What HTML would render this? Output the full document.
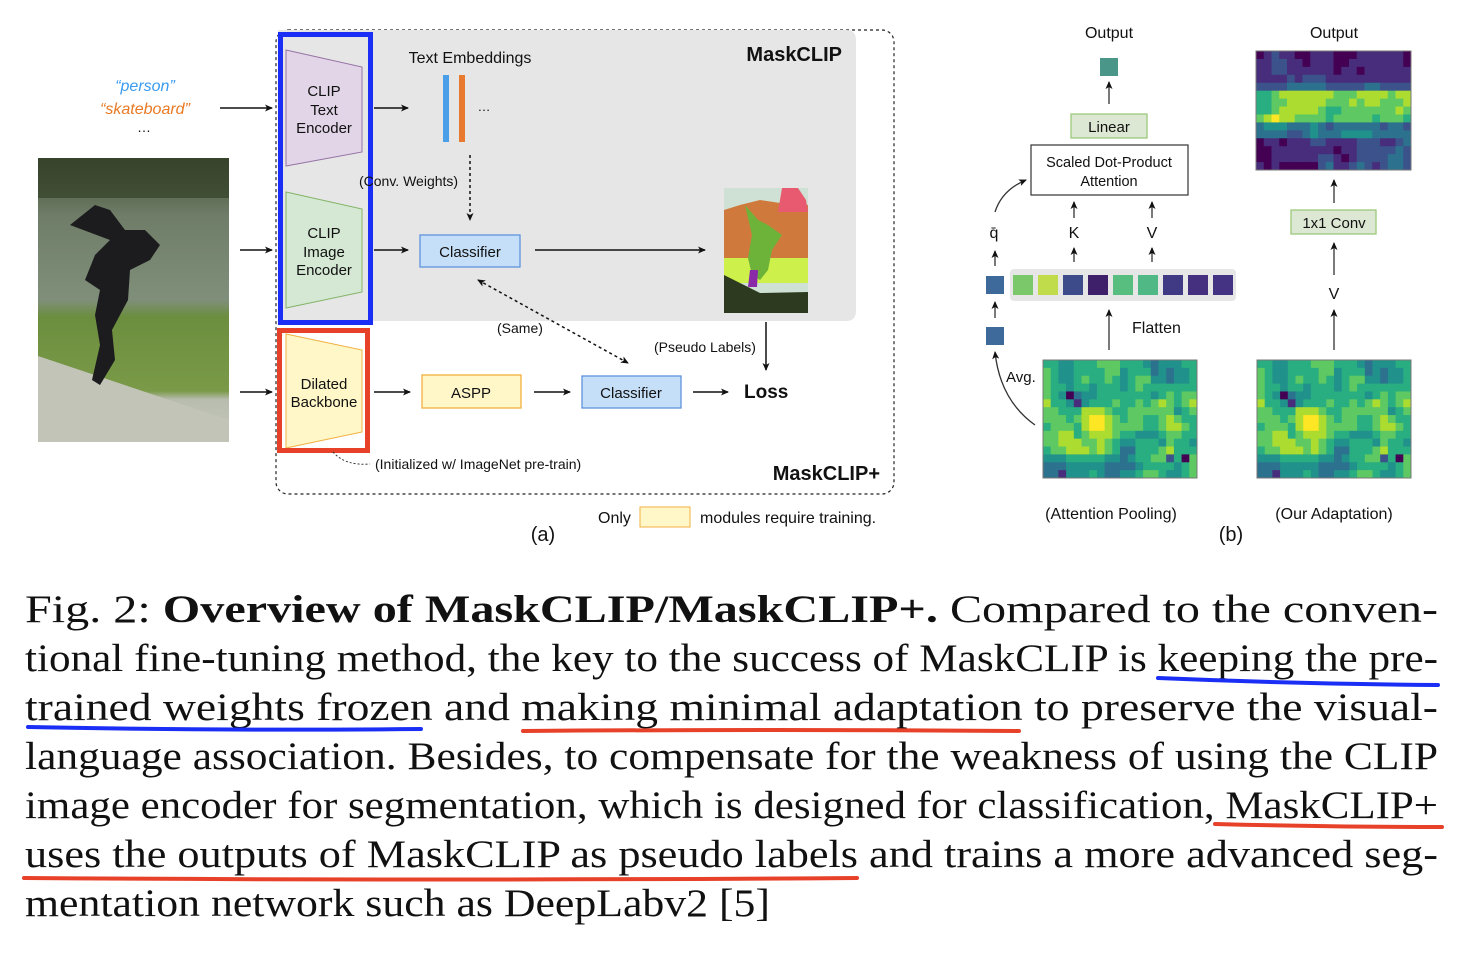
<!DOCTYPE html>
<html><head><meta charset="utf-8"><style>
html,body{margin:0;padding:0;background:#fff;width:1468px;height:956px;overflow:hidden}
svg{position:absolute;left:0;top:0}
.s{font-family:"Liberation Sans",sans-serif;fill:#111}
.c{font-family:"Liberation Serif",serif;font-size:39px;fill:#111}
</style></head><body>
<svg width="1468" height="956" viewBox="0 0 1468 956" xmlns="http://www.w3.org/2000/svg">
<defs>
<marker id="a" markerWidth="8" markerHeight="8" refX="7" refY="4" orient="auto" markerUnits="userSpaceOnUse"><path d="M0,0.5 L8,4 L0,7.5 L2,4z" fill="#111"/></marker>
<marker id="as" markerWidth="8" markerHeight="8" refX="1" refY="4" orient="auto" markerUnits="userSpaceOnUse"><path d="M8,0.5 L0,4 L8,7.5 L6,4z" fill="#111"/></marker>
<linearGradient id="ph" x1="0" y1="0" x2="0" y2="1">
<stop offset="0" stop-color="#3d4a2e"/><stop offset="0.2" stop-color="#6f7d68"/><stop offset="0.5" stop-color="#7f8f7a"/><stop offset="0.56" stop-color="#6b8e3e"/><stop offset="0.82" stop-color="#7a9a48"/><stop offset="0.85" stop-color="#b8bcae"/><stop offset="1" stop-color="#c5c8bc"/></linearGradient>
</defs>

<text class="s" x="145" y="91" font-size="16" font-style="italic" text-anchor="middle" style="fill:#3a9bf0">“person”</text>
<text class="s" x="145" y="114" font-size="16" font-style="italic" text-anchor="middle" style="fill:#e87a25">“skateboard”</text>
<text class="s" x="144" y="132" font-size="14" text-anchor="middle">…</text>
<rect x="38" y="158" width="191" height="284" fill="url(#ph)"/>
<rect x="38" y="158" width="191" height="40" fill="#34422a" opacity="0.7"/>
<path d="M38,356 L229,420 L229,442 L38,442z" fill="#c2c4b8"/>
<path d="M70,225 L95,205 L110,210 L125,230 L145,230 L160,245 L150,260 L130,270 L128,300 L112,330 L115,360 L100,385 L92,380 L100,345 L95,315 L100,290 L85,280 L95,255 L110,240 Z" fill="#1c1c1e"/>
<line x1="220" y1="108" x2="272" y2="108" stroke="#111" stroke-width="1.5" marker-end="url(#a)"/>
<line x1="240" y1="250" x2="272" y2="250" stroke="#111" stroke-width="1.5" marker-end="url(#a)"/>
<line x1="240" y1="392" x2="272" y2="392" stroke="#111" stroke-width="1.5" marker-end="url(#a)"/>

<rect x="276" y="30" width="618" height="464" rx="12" fill="none" stroke="#222" stroke-width="1.2" stroke-dasharray="3,3"/>
<path d="M278,30 H846 Q856,30 856,40 V311 Q856,321 846,321 H278 Z" fill="#e6e6e6"/>
<path d="M286,50 L362,67 L362,152 L286,166 Z" fill="#e1d5e7" stroke="#9673a6"/>
<path d="M286,192 L362,209 L362,292 L286,308 Z" fill="#d5e8d4" stroke="#82b366"/>
<path d="M286,334 L362,350 L362,432 L286,448 Z" fill="#fff7c8" stroke="#f0b040"/>
<rect x="280.5" y="34.5" width="90" height="288" fill="none" stroke="#1a2ef5" stroke-width="5"/>
<rect x="279.5" y="330.5" width="88" height="120" fill="none" stroke="#e8412a" stroke-width="5"/>
<g class="s" font-size="15" text-anchor="middle">
<text x="324" y="96">CLIP</text><text x="324" y="115">Text</text><text x="324" y="133">Encoder</text>
<text x="324" y="238">CLIP</text><text x="324" y="257">Image</text><text x="324" y="275">Encoder</text>
<text x="324" y="389">Dilated</text><text x="324" y="407">Backbone</text>
</g>
<text class="s" x="470" y="63" font-size="16" text-anchor="middle">Text Embeddings</text>
<rect x="443" y="75" width="6" height="67" fill="#4a9fe8"/>
<rect x="459" y="75" width="6" height="67" fill="#e87a30"/>
<text class="s" x="484" y="111" font-size="13" text-anchor="middle">…</text>
<text class="s" x="842" y="61" font-size="20" font-weight="bold" text-anchor="end">MaskCLIP</text>
<text class="s" x="880" y="480" font-size="20" font-weight="bold" text-anchor="end">MaskCLIP+</text>
<line x1="374" y1="108" x2="408" y2="108" stroke="#111" stroke-width="1.5" marker-end="url(#a)"/>
<line x1="374" y1="250" x2="408" y2="250" stroke="#111" stroke-width="1.5" marker-end="url(#a)"/>
<line x1="374" y1="392" x2="410" y2="392" stroke="#111" stroke-width="1.5" marker-end="url(#a)"/>
<line x1="470" y1="155" x2="470" y2="220" stroke="#111" stroke-width="1.5" stroke-dasharray="3,3" marker-end="url(#a)"/>
<text class="s" x="359" y="186" font-size="14">(Conv. Weights)</text>
<rect x="420" y="235" width="100" height="32" fill="#c6dff8" stroke="#5f93dc" stroke-width="1.3"/>
<text class="s" x="470" y="257" font-size="15" text-anchor="middle">Classifier</text>
<line x1="535" y1="250" x2="705" y2="250" stroke="#111" stroke-width="1.5" marker-end="url(#a)"/>
<rect x="724" y="188" width="84" height="125" fill="#cfe0d4"/>
<path d="M724,210 L740,205 L760,200 L780,203 L808,205 L808,258 L724,258 Z" fill="#cf7a3c"/>
<path d="M782,188 L798,188 L806,200 L808,212 L778,212 Z" fill="#e85a70"/>
<rect x="724" y="258" width="84" height="25" fill="#cdf14a"/>
<path d="M724,275 L760,293 L808,292 L808,313 L724,313 Z" fill="#2e3a20"/>
<path d="M745,205 L758,220 L768,225 L782,235 L772,250 L768,270 L760,280 L752,275 L748,258 L752,235 Z" fill="#6db33a"/>
<path d="M750,270 L758,270 L757,287 L748,287 Z" fill="#8a2aa8"/>
<line x1="766" y1="322" x2="766" y2="370" stroke="#111" stroke-width="1.5" marker-end="url(#a)"/>
<text class="s" x="654" y="352" font-size="14">(Pseudo Labels)</text>
<line x1="478" y1="280" x2="628" y2="363" stroke="#111" stroke-width="1.5" stroke-dasharray="3,3" marker-start="url(#as)" marker-end="url(#a)"/>
<text class="s" x="497" y="333" font-size="14">(Same)</text>
<rect x="422" y="375" width="99" height="33" fill="#fff7c8" stroke="#f0b040" stroke-width="1.3"/>
<text class="s" x="471" y="398" font-size="15" text-anchor="middle">ASPP</text>
<line x1="534" y1="392" x2="570" y2="392" stroke="#111" stroke-width="1.5" marker-end="url(#a)"/>
<rect x="582" y="376" width="99" height="32" fill="#c6dff8" stroke="#5f93dc" stroke-width="1.3"/>
<text class="s" x="631" y="398" font-size="15" text-anchor="middle">Classifier</text>
<line x1="693" y1="392" x2="728" y2="392" stroke="#111" stroke-width="1.5" marker-end="url(#a)"/>
<text class="s" x="744" y="398" font-size="19" font-weight="bold">Loss</text>
<path d="M333,452 Q345,466 370,464" fill="none" stroke="#333" stroke-dasharray="2,2"/>
<text class="s" x="375" y="469" font-size="14">(Initialized w/ ImageNet pre-train)</text>
<text class="s" x="598" y="523" font-size="16">Only</text>
<rect x="640" y="507" width="50" height="20" fill="#fff7c8" stroke="#f0b040"/>
<text class="s" x="700" y="523" font-size="16">modules require training.</text>
<text class="s" x="543" y="541" font-size="20" text-anchor="middle">(a)</text>

<g class="s" font-size="16" text-anchor="middle">
<text x="1109" y="38">Output</text><text x="1334" y="38">Output</text>
<text x="1111" y="519">(Attention Pooling)</text><text x="1334" y="519">(Our Adaptation)</text>
</g>
<text class="s" x="1231" y="541" font-size="20" text-anchor="middle">(b)</text>
<rect x="1100" y="58" width="18" height="18" fill="#4a9688"/>
<line x1="1109" y1="104" x2="1109" y2="82" stroke="#333" stroke-width="1.3" marker-end="url(#a)"/>
<rect x="1071" y="114" width="76" height="24" fill="#dde8d4" stroke="#9cc87a" stroke-width="1.3"/>
<text class="s" x="1109" y="132" font-size="15" text-anchor="middle">Linear</text>
<rect x="1031" y="145" width="157" height="50" fill="#fff" stroke="#333" stroke-width="1.2"/>
<text class="s" x="1109" y="167" font-size="14.5" text-anchor="middle">Scaled Dot-Product</text>
<text class="s" x="1109" y="186" font-size="14.5" text-anchor="middle">Attention</text>
<g stroke="#333" stroke-width="1.3">
<line x1="1074" y1="218" x2="1074" y2="202" marker-end="url(#a)"/>
<line x1="1074" y1="262" x2="1074" y2="248" marker-end="url(#a)"/>
<line x1="1152" y1="218" x2="1152" y2="202" marker-end="url(#a)"/>
<line x1="1152" y1="262" x2="1152" y2="248" marker-end="url(#a)"/>
<line x1="995" y1="266" x2="995" y2="251" marker-end="url(#a)"/>
<line x1="995" y1="318" x2="995" y2="302" marker-end="url(#a)"/>
<line x1="1109" y1="350" x2="1109" y2="310" marker-end="url(#a)"/>
<line x1="1334" y1="203" x2="1334" y2="180" marker-end="url(#a)"/>
<line x1="1334" y1="275" x2="1334" y2="243" marker-end="url(#a)"/>
<line x1="1334" y1="350" x2="1334" y2="310" marker-end="url(#a)"/>
</g>
<path d="M995,212 Q1002,190 1026,180" fill="none" stroke="#333" stroke-width="1.3" marker-end="url(#a)"/>
<path d="M1035,425 Q1000,400 995,352" fill="none" stroke="#333" stroke-width="1.3" marker-end="url(#a)"/>
<g class="s" font-size="16" text-anchor="middle">
<text x="1074" y="238">K</text><text x="1152" y="238">V</text><text x="994" y="238">q̄</text><text x="1334" y="299">V</text>
</g>
<text class="s" x="1132" y="333" font-size="16">Flatten</text>
<text class="s" x="1006" y="382" font-size="15">Avg.</text>
<rect x="1010" y="269" width="226" height="32" rx="4" fill="#e6e6e6"/>
<g>
<rect x="1013" y="275" width="20" height="20" fill="#7ac86a"/>
<rect x="1038" y="275" width="20" height="20" fill="#c1dc4a"/>
<rect x="1063" y="275" width="20" height="20" fill="#3d4b8a"/>
<rect x="1088" y="275" width="20" height="20" fill="#3e1f6a"/>
<rect x="1113" y="275" width="20" height="20" fill="#58be80"/>
<rect x="1138" y="275" width="20" height="20" fill="#50b884"/>
<rect x="1163" y="275" width="20" height="20" fill="#403a85"/>
<rect x="1188" y="275" width="20" height="20" fill="#44307f"/>
<rect x="1213" y="275" width="20" height="20" fill="#443282"/>
</g>
<rect x="986" y="276" width="18" height="18" fill="#3d6a9a"/>
<rect x="986" y="327" width="18" height="18" fill="#3d6a9a"/>
<rect x="1291" y="210" width="85" height="24" fill="#dde8d4" stroke="#9cc87a" stroke-width="1.3"/>
<text class="s" x="1334" y="228" font-size="15" text-anchor="middle">1x1 Conv</text>
<g id="h1"></g><g id="h2"></g><g id="h3"></g>
<rect x="1043" y="360" width="154" height="118" fill="none" stroke="#777"/>
<rect x="1257" y="360" width="154" height="118" fill="none" stroke="#777"/>
<rect x="1256" y="51" width="155" height="119" fill="none" stroke="#777"/>

<g class="c">
<text x="25" y="622" textLength="1413" lengthAdjust="spacingAndGlyphs">Fig. 2: <tspan font-weight="bold">Overview of MaskCLIP/MaskCLIP+.</tspan>  Compared to the conven-</text>
<text x="25" y="671" textLength="1413" lengthAdjust="spacingAndGlyphs">tional fine-tuning method, the key to the success of MaskCLIP is keeping the pre-</text>
<text x="25" y="720" textLength="1413" lengthAdjust="spacingAndGlyphs">trained weights frozen and making minimal adaptation to preserve the visual-</text>
<text x="25" y="769" textLength="1413" lengthAdjust="spacingAndGlyphs">language association. Besides, to compensate for the weakness of using the CLIP</text>
<text x="25" y="818" textLength="1413" lengthAdjust="spacingAndGlyphs">image encoder for segmentation, which is designed for classification, MaskCLIP+</text>
<text x="25" y="867" textLength="1413" lengthAdjust="spacingAndGlyphs">uses the outputs of MaskCLIP as pseudo labels and trains a more advanced seg-</text>
<text x="25" y="916" textLength="745" lengthAdjust="spacingAndGlyphs">mentation network such as DeepLabv2 [5]</text>
</g>
<g fill="none" stroke-width="4" stroke-linecap="round">
<path d="M1158,678 Q1300,684 1438,685" stroke="#1a2ef5"/>
<path d="M28,727 Q220,731 421,729" stroke="#1a2ef5"/>
<path d="M523,731 Q780,729 1019,731" stroke="#e8412a"/>
<path d="M1215,824 Q1330,827 1442,827" stroke="#e8412a"/>
<path d="M24,878 Q440,881 857,878" stroke="#e8412a"/>
</g>
</svg>
<script>
(function(){
var V=["#440154","#472d7b","#3b528b","#2c728e","#21918c","#28ae80","#5ec962","#addc30","#fde725"];
var seed=7;function r(){seed=(seed*16807)%2147483647;return seed/2147483647;}
function smooth(n){var o=[];for(var j=0;j<15;j++){o[j]=[];for(var i=0;i<20;i++){var s=0,c=0;for(var dj=-1;dj<=1;dj++)for(var di=-1;di<=1;di++){var y=j+dj,x=i+di;if(y>=0&&y<15&&x>=0&&x<20){var w=(di||dj)?1:2;s+=n[y][x]*w;c+=w;}}o[j][i]=s/c;}}return o;}
function draw(id,x0,y0,w,h,f){var g=document.getElementById(id),s="",cw=w/20,ch=h/15;
for(var j=0;j<15;j++)for(var i=0;i<20;i++){var v=f(i,j);v=Math.max(0,Math.min(8,Math.round(v)));
s+='<rect x="'+(x0+i*cw).toFixed(2)+'" y="'+(y0+j*ch).toFixed(2)+'" width="'+(cw+0.5).toFixed(2)+'" height="'+(ch+0.5).toFixed(2)+'" fill="'+V[v]+'"/>';}
g.innerHTML=s;}
var n=[];for(var j=0;j<15;j++){n[j]=[];for(var i=0;i<20;i++)n[j][i]=(r()-0.5)*5;}
n=smooth(n);
var d=[];for(var j=0;j<15;j++){d[j]=[];for(var i=0;i<20;i++){var b=4.7+(j>=5&&j<=11?1.0:0)-(j>=13?1.3:0)-(j<2?0.3:0);d[j][i]=b+n[j][i]*1.6;}}
d[4][3]=0;d[5][4]=1;d[12][18]=0;d[14][2]=0.5;d[12][16]=2;
draw("h1",1043,360,154,118,function(i,j){return d[j][i];});
draw("h2",1257,360,154,118,function(i,j){return d[j][i];});
seed=33;var m=[];for(var j=0;j<15;j++){m[j]=[];for(var i=0;i<20;i++)m[j][i]=(r()-0.5)*4;}m=smooth(m);
draw("h3",1256,51,155,119,function(i,j){var b;if(j<4)b=1.0;else if(j<5)b=2.2;else if(j<9)b=6.2;else if(j<11)b=3.0;else b=1.4;return b+m[j][i]*1.6;});
})();
</script>
</body></html>
